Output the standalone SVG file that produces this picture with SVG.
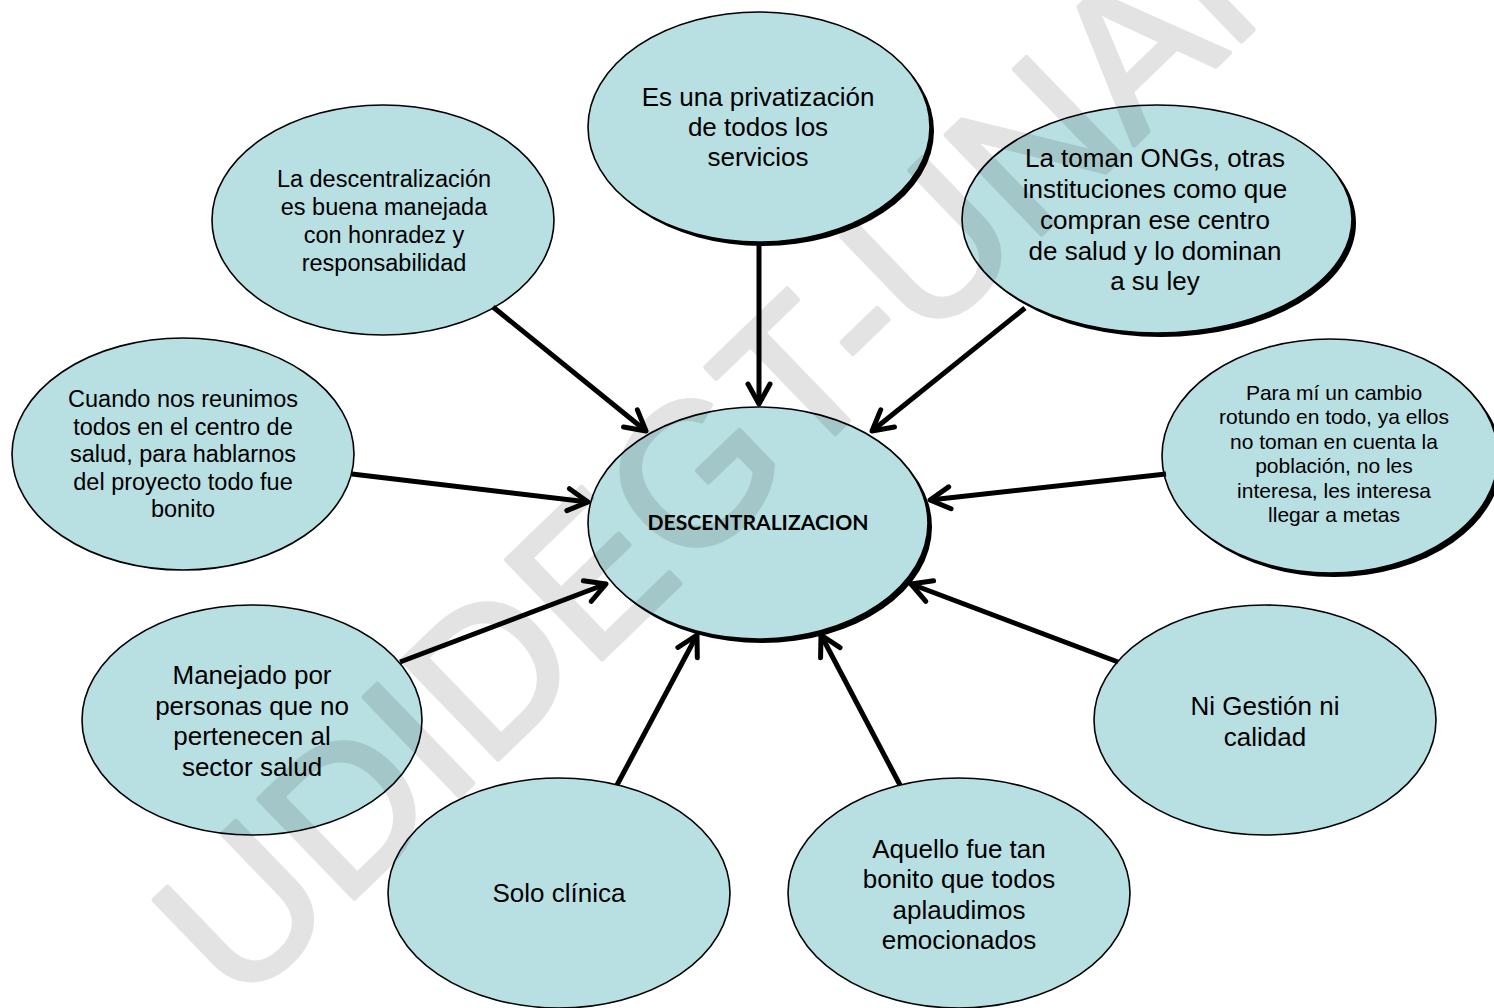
<svg xmlns="http://www.w3.org/2000/svg" width="1494" height="1008" viewBox="0 0 1494 1008">
  <style>
    .bubble { fill: #b8dfe2; stroke: #000; stroke-width: 1.6; }
    .shadow { fill: #000; }
    .label { font-family: "Liberation Sans", Arial, sans-serif; fill: #000; text-anchor: middle; }
    .big { font-size: 26px; }
    .mid { font-size: 23.5px; }
    .small { font-size: 21px; }
    .title { font-family: Lato, "Open Sans", sans-serif; font-weight: bold; font-size: 21.5px; fill: #000; text-anchor: middle; }
    .link { stroke: #000; stroke-width: 5; fill: none; marker-end: url(#arrow); }
    .mark { font-family: "Liberation Sans", Arial, sans-serif; font-size: 200px; fill: #000; stroke: #000; stroke-width: 5; stroke-linejoin: round; text-anchor: middle; }
  </style>
  <defs>
    <marker id="arrow" viewBox="-24 -14 28 28" refX="0" refY="0" markerWidth="28" markerHeight="28" markerUnits="userSpaceOnUse" orient="auto" overflow="visible">
      <path d="M-20,-11 L0,0 L-20,11" fill="none" stroke="#000" stroke-width="5" stroke-linecap="round" stroke-linejoin="round"/>
    </marker>
  </defs>

  <rect width="1494" height="1008" fill="#fff"/>

  <!-- top -->
  <g id="node-privatizacion">
    <ellipse class="shadow" cx="763" cy="131" rx="171" ry="115"/>
    <ellipse class="bubble" cx="759" cy="127" rx="171" ry="115"/>
    <text class="label big" x="758" y="106">Es una privatización</text>
    <text class="label big" x="758" y="136">de todos los</text>
    <text class="label big" x="758" y="166">servicios</text>
  </g>

  <!-- upper left -->
  <g id="node-honradez">
    <ellipse class="bubble" cx="383" cy="220" rx="171" ry="115"/>
    <text class="label mid" x="384" y="187">La descentralización</text>
    <text class="label mid" x="384" y="215">es buena manejada</text>
    <text class="label mid" x="384" y="243">con honradez y</text>
    <text class="label mid" x="384" y="270.5">responsabilidad</text>
  </g>

  <!-- upper right -->
  <g id="node-ongs">
    <ellipse class="shadow" cx="1161" cy="223" rx="195" ry="114"/>
    <ellipse class="bubble" cx="1157" cy="219" rx="195" ry="114"/>
    <text class="label big" x="1155" y="167">La toman ONGs, otras</text>
    <text class="label big" x="1155" y="198">instituciones como que</text>
    <text class="label big" x="1155" y="229">compran ese centro</text>
    <text class="label big" x="1155" y="259.5">de salud y lo dominan</text>
    <text class="label big" x="1155" y="290">a su ley</text>
  </g>

  <!-- left -->
  <g id="node-reunimos">
    <ellipse class="bubble" cx="183" cy="454" rx="171" ry="116"/>
    <text class="label mid" x="183" y="407">Cuando nos reunimos</text>
    <text class="label mid" x="183" y="434.5">todos en el centro de</text>
    <text class="label mid" x="183" y="462">salud, para hablarnos</text>
    <text class="label mid" x="183" y="489.5">del proyecto todo fue</text>
    <text class="label mid" x="183" y="517">bonito</text>
  </g>

  <!-- centre -->
  <g id="node-descentralizacion">
    <ellipse class="shadow" cx="762" cy="527" rx="170" ry="116"/>
    <ellipse class="bubble" cx="758" cy="523" rx="170" ry="116"/>
    <text class="title" x="758" y="530" textLength="221" lengthAdjust="spacingAndGlyphs">DESCENTRALIZACION</text>
  </g>

  <!-- right -->
  <g id="node-cambio">
    <ellipse class="shadow" cx="1334" cy="460" rx="168" ry="117"/>
    <ellipse class="bubble" cx="1330" cy="456" rx="168" ry="117"/>
    <text class="label small" x="1334" y="400">Para mí un cambio</text>
    <text class="label small" x="1334" y="424.4">rotundo en todo, ya ellos</text>
    <text class="label small" x="1334" y="448.8">no toman en cuenta la</text>
    <text class="label small" x="1334" y="473.2">población, no les</text>
    <text class="label small" x="1334" y="497.6">interesa, les interesa</text>
    <text class="label small" x="1334" y="522">llegar a metas</text>
  </g>

  <!-- lower left -->
  <g id="node-manejado">
    <ellipse class="bubble" cx="252" cy="720" rx="170" ry="115"/>
    <text class="label big" x="252" y="684">Manejado por</text>
    <text class="label big" x="252" y="714.5">personas que no</text>
    <text class="label big" x="252" y="745">pertenecen al</text>
    <text class="label big" x="252" y="775.5">sector salud</text>
  </g>

  <!-- lower right -->
  <g id="node-gestion">
    <ellipse class="bubble" cx="1265" cy="720" rx="171" ry="115"/>
    <text class="label big" x="1265" y="715">Ni Gestión ni</text>
    <text class="label big" x="1265" y="745.5">calidad</text>
  </g>

  <!-- bottom left -->
  <g id="node-clinica">
    <ellipse class="bubble" cx="559" cy="893" rx="171" ry="115"/>
    <text class="label big" x="559" y="902">Solo clínica</text>
  </g>

  <!-- bottom right -->
  <g id="node-aplaudimos">
    <ellipse class="bubble" cx="959" cy="893" rx="171" ry="115"/>
    <text class="label big" x="959" y="857.5">Aquello fue tan</text>
    <text class="label big" x="959" y="888">bonito que todos</text>
    <text class="label big" x="959" y="918.5">aplaudimos</text>
    <text class="label big" x="959" y="949">emocionados</text>
  </g>

  <!-- arrows into the centre -->
  <g id="connectors">
    <line class="link" x1="759" y1="244" x2="759" y2="404"/>
    <line class="link" x1="493" y1="307" x2="646" y2="431"/>
    <line class="link" x1="1025" y1="308" x2="872" y2="431"/>
    <line class="link" x1="352" y1="474" x2="588" y2="502"/>
    <line class="link" x1="1166" y1="474" x2="930" y2="500"/>
    <line class="link" x1="400" y1="662" x2="606" y2="584"/>
    <line class="link" x1="1118" y1="662" x2="911" y2="584"/>
    <line class="link" x1="617" y1="785" x2="697" y2="635"/>
    <line class="link" x1="900" y1="785" x2="821" y2="635"/>
  </g>

  <!-- diagonal watermark, translucent over everything -->
  <g opacity="0.105">
    <text class="mark" x="786" y="481" transform="rotate(-44 786 481)">UDIDEGT-UNAN</text>
  </g>
</svg>
